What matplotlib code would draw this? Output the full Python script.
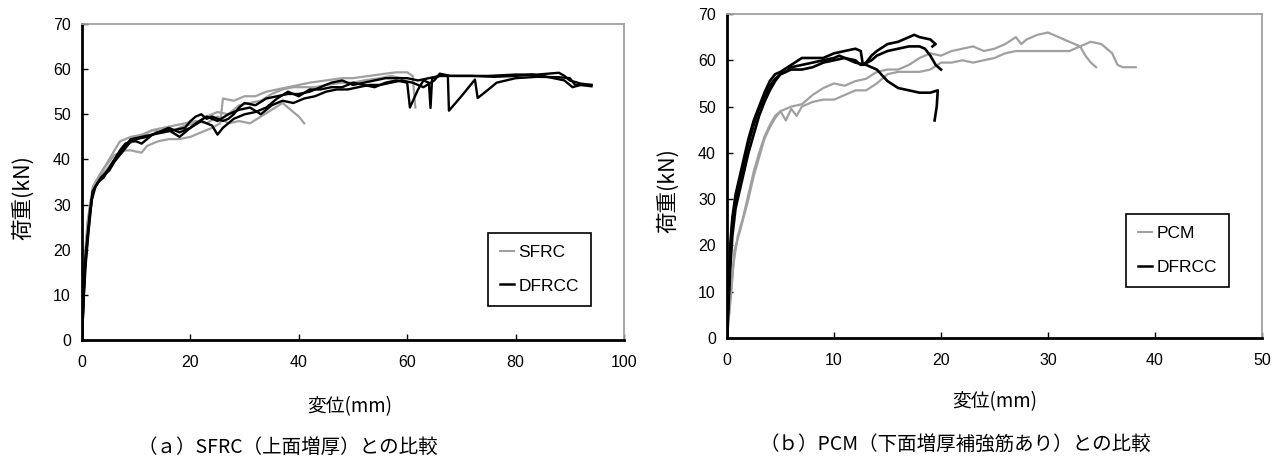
import matplotlib
matplotlib.use("Agg")
import matplotlib.pyplot as plt
from matplotlib.lines import Line2D

# ---------------- data ----------------
# (a) SFRC vs DFRCC : displacement (mm), load (kN)
sfrc1_x = [0, 0.3, 0.7, 1.2, 1.8, 2.5, 4, 6, 8, 9.5, 11, 13, 15, 17, 19, 21, 23, 25, 27, 29, 31, 33, 35, 37, 38, 39, 40, 41]
sfrc1_y = [0, 10, 20, 27, 32, 35, 37, 40, 43, 44, 45, 46.5, 47, 47.5, 48, 48.5, 48, 49.5, 48, 48.5, 48, 49.5, 51, 52.5, 51.5, 50.5, 49.5, 48]
sfrc2_x = [0, 0.3, 0.8, 1.5, 2.5, 4, 6, 8, 9, 11, 12, 14, 16, 18, 20, 22, 24, 25.5, 26, 28, 30, 32, 34, 36, 38, 40, 42, 45, 48, 50, 53, 56, 58, 60, 61, 61.5]
sfrc2_y = [0, 12, 22, 30, 35, 38, 41, 42, 42, 41.5, 43, 44, 44.5, 44.5, 45, 46, 47, 48, 53.5, 53, 54, 54, 55, 55.5, 56, 56.5, 57, 57.5, 58, 58, 58.5, 59, 59.3, 59.3, 58.5, 51.5]
sfrc3_x = [0, 0.5, 1, 2, 3, 5, 7, 9, 11, 13, 15, 17, 19, 21, 23, 25, 27, 29, 31, 33, 35, 37, 39, 41, 43, 45, 48, 50, 52, 55, 57, 59]
sfrc3_y = [0, 18, 26, 34, 36, 40, 44, 45, 45.5, 46.5, 46, 46.5, 47.5, 48, 49.5, 50.5, 50, 52, 52.5, 53, 54.5, 55.5, 56, 56, 56, 56.5, 57, 57, 57.5, 58, 58.5, 58]

dfrcc_a1_x = [0, 0.2, 0.5, 1, 1.5, 2, 3, 4, 5, 6, 7, 8, 9, 10, 11, 12, 13, 15, 17, 19, 20, 21, 22, 23, 24, 26, 27, 28, 29, 30, 32, 34, 36, 38, 40, 42, 44, 46, 48, 50, 52, 54, 56, 58, 60, 62, 64, 66, 67.5, 67.7, 70, 72.5, 73, 75, 76.5, 80, 84, 88, 90, 91, 94]
dfrcc_a1_y = [0, 6, 15, 22, 28, 33, 35, 36, 38, 40, 42, 43.5, 44, 44, 43.5, 44.5, 45.5, 46, 46.5, 47, 48.5, 49.5, 50, 49, 49.5, 48.5, 49, 50, 51.5, 52.5, 52, 53.5, 54, 54.5, 54.5, 55, 56, 57, 57.5, 56.5, 57, 57.5, 58, 58, 58, 57.5, 58, 58.5, 58.5, 50.8, 54, 57.7, 53.6, 55.5, 57, 58, 58.3, 58.2, 58, 56.5, 56.5]
dfrcc_a2_x = [0, 0.3, 0.6, 1, 1.5, 2, 3, 4, 5, 6, 7, 8, 9, 11, 13, 14, 16, 18, 20, 22, 24, 25, 26, 28, 30, 32, 34, 36, 38, 40, 42, 44, 46, 48, 50, 52, 54, 56, 58, 60, 60.5, 62, 63, 64, 64.3, 64.6, 66, 70, 75, 80, 84, 86, 88, 89, 90, 92, 94]
dfrcc_a2_y = [0, 10, 18, 23, 29, 33, 35, 36.5, 38, 40, 41.5, 43, 44.5, 45, 45.5, 46, 47, 46, 47, 48.5, 47.5, 45.5, 47, 49, 50, 50.5, 51.5, 53.5, 55, 54, 55.5, 55.5, 56, 56, 57, 56.5, 56, 57, 57.5, 57, 51.5, 55.5, 57.5, 57, 51.4, 58, 58.5, 58.5, 58.5, 58.8, 58.8, 59, 59.2, 58.5, 57.5, 56.8, 56.5]
dfrcc_a3_x = [0, 0.3, 0.7, 1.2, 1.8, 2.5, 3.5, 5, 6, 7, 8, 9, 10, 12, 14, 16, 18, 19, 21, 23, 25, 27, 29, 31, 33, 35, 37, 39, 41, 43, 45, 47, 49, 51, 53, 55, 57, 59, 61, 63, 65, 66, 68, 72, 76, 80, 83, 85, 87, 89, 90.5, 92, 94]
dfrcc_a3_y = [0, 9, 17, 24, 31, 34, 36, 37.5, 39.5, 41, 42.5, 44, 44.5, 45, 46, 46.5, 45, 46, 48, 49.5, 48.5, 50, 51, 51.5, 50, 52, 53, 52.5, 53.5, 54, 55, 55.5, 55.5, 56, 56.5, 56.5, 57, 57.5, 57, 56, 57.5, 59, 58.5, 58.5, 58.3, 58.5, 58.8, 58.5, 58, 57.5, 56, 56.5, 56.2]

# (b) PCM vs DFRCC
pcm1_x = [0, 0.3, 0.6, 1, 1.5, 2, 2.5, 3, 3.5, 4, 4.5, 5, 6, 7, 8, 9, 10, 11, 12, 13, 14, 15, 16, 17, 18, 19, 20, 21, 22, 23, 24, 25, 26, 27, 27.5, 28, 29, 30, 31, 32, 33, 33.5, 34, 34.5]
pcm1_y = [0, 8, 16, 22, 26, 31, 36, 40, 43.5, 46, 48, 49, 50, 50.5, 52.5, 54, 55, 54.5, 55.5, 56, 57.5, 58, 58, 59, 60.5, 61.5, 61, 62, 62.5, 63, 62, 62.5, 63.5, 65, 63.5, 64.5, 65.5, 66, 65, 64, 63, 61, 59.5, 58.5]
pcm2_x = [0, 0.4, 0.7, 1.2, 2, 2.5, 3, 3.5, 4, 4.5, 5, 5.5, 6, 6.5, 7, 8, 9, 10, 11, 12, 13, 14, 15, 16, 18, 19, 20, 21, 22, 23, 24, 25, 26, 27, 30, 32, 33, 34, 35, 36, 36.5, 37, 38.2]
pcm2_y = [0, 10, 19, 23, 30, 35, 39, 43, 45.5, 47.5, 49, 47, 49.5, 48, 50, 51, 51.5, 51.5, 52.5, 53.5, 53.5, 55, 57, 57.5, 57.5, 58, 59.5, 59.5, 60, 59.5, 60, 60.5, 61.5, 62, 62, 62, 63, 64, 63.5, 61.5, 59, 58.5, 58.5]

dfrcc_b1_x = [0, 0.1, 0.3, 0.5, 0.8, 1.2, 1.6, 2, 2.5, 3, 3.5, 4, 4.5, 5, 5.5, 6, 7, 8, 9, 10, 10.5, 11, 11.5, 12, 13, 14, 15, 16, 17, 18, 19, 19.7, 19.6, 19.4]
dfrcc_b1_y = [0, 5, 15, 22, 28, 32, 36, 40, 44, 48, 51, 53.5, 55.5, 57, 57.5, 58.5, 59, 59.5, 60, 60.5, 61, 60.5, 60, 59.5, 59, 58, 55.5, 54, 53.5, 53, 53, 53.5, 50, 47]
dfrcc_b2_x = [0, 0.1, 0.3, 0.5, 0.8, 1.2, 1.6, 2, 2.5, 3, 3.5, 4, 4.5, 5, 6, 7, 8, 9, 10, 11, 12, 12.5, 13, 13.5, 14, 15, 16, 17, 17.5, 18, 19, 19.5, 19.2]
dfrcc_b2_y = [0, 6, 17, 25, 30, 34, 38, 42, 46, 49.5, 52, 54.5, 56, 57, 58, 58, 58.5, 59.5, 60, 60.5, 60, 59, 59.5, 61, 62, 63.5, 64, 65, 65.5, 65, 64.5, 63.5, 63]
dfrcc_b3_x = [0, 0.1, 0.3, 0.5, 0.8, 1.2, 1.6, 2, 2.5, 3, 3.5, 4, 4.5, 5, 6, 7, 8, 9, 10, 11, 12, 12.5, 12.7, 13.5, 14, 15, 16, 17, 18, 18.5, 19, 19.5, 20]
dfrcc_b3_y = [0, 8, 20, 26, 31, 35, 39, 43, 47, 50, 53, 55.5, 57, 57.5, 59, 60.5, 60.5, 60.5, 61.5, 62, 62.5, 62, 59, 60, 61, 62, 62.5, 63, 63, 62.5, 61, 59, 58]

yticks = [0, 10, 20, 30, 40, 50, 60, 70]
xticks_a = [0, 20, 40, 60, 80, 100]
xticks_b = [0, 10, 20, 30, 40, 50]
legend_a = ["SFRC", "DFRCC"]
legend_b = ["PCM", "DFRCC"]
ylabel = "荷重(kN)"
xlabel = "変位(mm)"
caption_a = "（ａ）SFRC（上面増厚）との比較"
caption_b = "（ｂ）PCM（下面増厚補強筋あり）との比較"

# ---------------- styling ----------------
GRAY = "#a0a0a0"
BLACK = "#000000"
plt.rcParams["font.family"] = ["Liberation Sans", "Noto Sans CJK JP", "DejaVu Sans"]
JP = ["Noto Sans CJK JP", "DejaVu Sans"]

W, H = 1284, 465
fig = plt.figure(figsize=(W / 100, H / 100), dpi=100)


def px_axes(x0, y0, x1, y1):
    return fig.add_axes([x0 / W, 1 - y1 / H, (x1 - x0) / W, (y1 - y0) / H])


def style(ax, xmax, xticks):
    ax.set_xlim(0, xmax)
    ax.set_ylim(0, 70)
    ax.set_xticks(xticks)
    ax.set_yticks(yticks)
    for s in ("left", "bottom"):
        ax.spines[s].set_color(BLACK)
        ax.spines[s].set_linewidth(2.0)
    for s in ("top", "right"):
        ax.spines[s].set_color(GRAY)
        ax.spines[s].set_linewidth(1.3)
    ax.tick_params(axis="both", direction="in", length=4, width=1, labelsize=11.5, colors=BLACK)
    ax.tick_params(axis="x", pad=11)
    ax.tick_params(axis="y", pad=8)


axA = px_axes(82, 24, 624, 340)
axB = px_axes(727, 14, 1262, 338)

for xs, ys in [(sfrc1_x, sfrc1_y), (sfrc2_x, sfrc2_y), (sfrc3_x, sfrc3_y)]:
    axA.plot(xs, ys, color=GRAY, lw=1.6, zorder=2)
for xs, ys in [(dfrcc_a1_x, dfrcc_a1_y), (dfrcc_a2_x, dfrcc_a2_y), (dfrcc_a3_x, dfrcc_a3_y)]:
    axA.plot(xs, ys, color=BLACK, lw=1.7, zorder=3)

for xs, ys in [(pcm1_x, pcm1_y), (pcm2_x, pcm2_y)]:
    axB.plot(xs, ys, color=GRAY, lw=1.6, zorder=2)
for xs, ys in [(dfrcc_b1_x, dfrcc_b1_y), (dfrcc_b2_x, dfrcc_b2_y), (dfrcc_b3_x, dfrcc_b3_y)]:
    axB.plot(xs, ys, color=BLACK, lw=1.9, zorder=3)

style(axA, 100, xticks_a)
style(axB, 50, xticks_b)


def add_legend(ax, labels, anchor):
    handles = [Line2D([], [], color=GRAY, lw=1.5), Line2D([], [], color=BLACK, lw=1.8)]
    leg = ax.legend(handles, labels, loc="upper left", bbox_to_anchor=anchor,
                    borderaxespad=0, fontsize=12.5, handlelength=0.8, handletextpad=0.25,
                    borderpad=0.7, labelspacing=1.05, fancybox=False, framealpha=1,
                    edgecolor=BLACK)
    leg.get_frame().set_linewidth(1.2)
    return leg


add_legend(axA, legend_a, (0.749, 0.339))
add_legend(axB, legend_b, (0.746, 0.383))

# axis labels and captions
fig.text(23 / W, 1 - 198 / H, ylabel, rotation=90, ha="center", va="center", fontsize=15.5, family=JP)
fig.text(668 / W, 1 - 191 / H, ylabel, rotation=90, ha="center", va="center", fontsize=15.5, family=JP)
fig.text(350 / W, 1 - 407 / H, xlabel, ha="center", va="center", fontsize=13.5, family=JP)
fig.text(995 / W, 1 - 402 / H, xlabel, ha="center", va="center", fontsize=13.5, family=JP)
fig.text(288 / W, 1 - 447 / H, caption_a, ha="center", va="center", fontsize=14, family=JP)
fig.text(955 / W, 1 - 444 / H, caption_b, ha="center", va="center", fontsize=14, family=JP)

fig.savefig("out.png", dpi=100)
